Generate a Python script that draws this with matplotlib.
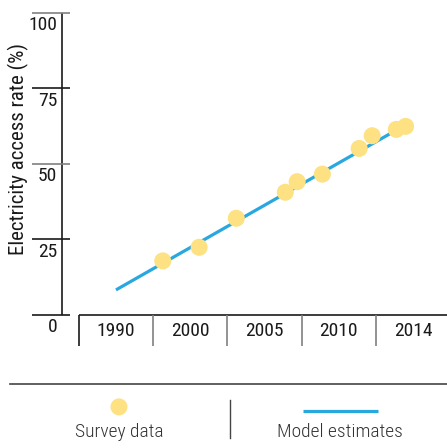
import numpy as np
import matplotlib
matplotlib.use("Agg")
import matplotlib.pyplot as plt

# Fonts: condensed sans, with fallbacks
cond = ["Roboto Condensed", "Liberation Sans Narrow", "DejaVu Sans"]
plt.rcParams["font.family"] = cond

# Axis labels
tick_years = [1990, 2000, 2005, 2010, 2014]
y_ticks = [0, 25, 50, 75, 100]

# Survey data points (year, access rate %)
survey_years = [1996.3, 2000.6, 2003.1, 2006.4, 2007.2, 2008.9, 2011.1, 2011.8, 2013.1, 2013.6]
survey_rate = [17.9, 22.4, 32.0, 40.6, 44.1, 46.6, 55.1, 59.3, 61.4, 62.4]

# Model estimates (straight trend)
model_years = [1990, 2013.0]
model_rate = [8.3, 60.8]

yellow = "#fde183"
blue = "#29a8df"
dark = "#1a1a1a"
grey = "#808080"


def to_pos(years):
    # each labelled year gets its own column on the x axis
    return np.interp(years, tick_years, np.arange(len(tick_years)))


fig = plt.figure(figsize=(4.47, 4.48), dpi=100)
ax = fig.add_axes([62 / 447, 133 / 448, 385 / 447, 302.3 / 448])
ax.set_xlim(-0.727, 4.458)
ax.set_ylim(0, 100)
ax.set_axis_off()

# y axis line
ax.plot([-0.727, -0.727], [0, 100], color=dark, lw=1.2, clip_on=False, solid_capstyle="butt")

# y ticks and their labels (label sits just under the tick)
tick_cols = [dark, dark, grey, dark, grey]
for v, c in zip(y_ticks, tick_cols):
    ax.plot([-1.131, -0.62], [v, v], color=c, lw=1.2, clip_on=False, solid_capstyle="butt")
    ax.annotate(str(v), (-0.79, v), xytext=(0, -2.5), textcoords="offset points",
                ha="right", va="top", fontsize=14, color=dark, annotation_clip=False)

ax.text(-1.32, 54.9, "Electricity access rate (%)", rotation=90, ha="center", va="center",
        fontsize=15, color=dark, clip_on=False)

# x axis: a row of boxes, one per labelled year
ax.plot([-0.5, 4.458], [0, 0], color=dark, lw=1.2, clip_on=False, solid_capstyle="butt")
ax.plot([-0.5, -0.5], [0, -10.3], color=dark, lw=1.2, clip_on=False, solid_capstyle="butt")
for k in range(1, len(tick_years)):
    ax.plot([k - 0.5, k - 0.5], [0, -10.3], color=grey, lw=1.2, clip_on=False, solid_capstyle="butt")
for k, yr in enumerate(tick_years):
    ax.text(k, -5.3, str(yr), ha="center", va="center", fontsize=14, color=dark, clip_on=False)

# data
ax.plot(to_pos(model_years), model_rate, color=blue, lw=2.3, solid_capstyle="butt", zorder=2)
ax.scatter(to_pos(survey_years), survey_rate, s=150, color=yellow, edgecolors="none", zorder=3)

# legend strip below the chart
ax.plot([-1.43, 4.458], [-22.8, -22.8], color="#444444", lw=1.2, clip_on=False)
ax.plot([1.535, 1.535], [-28.1, -40.7], color="#444444", lw=1.0, clip_on=False)
ax.scatter([0.04], [-30.4], s=150, color=yellow, edgecolors="none", clip_on=False)
ax.text(0.04, -38.7, "Survey data", ha="center", va="center", fontsize=14, fontweight="light",
        color="#333333", clip_on=False)
ax.plot([2.52, 3.53], [-31.8, -31.8], color=blue, lw=2.3, clip_on=False, solid_capstyle="butt")
ax.text(3.02, -38.7, "Model estimates", ha="center", va="center", fontsize=14, fontweight="light",
        color="#333333", clip_on=False)

fig.savefig("out.png", dpi=100)
